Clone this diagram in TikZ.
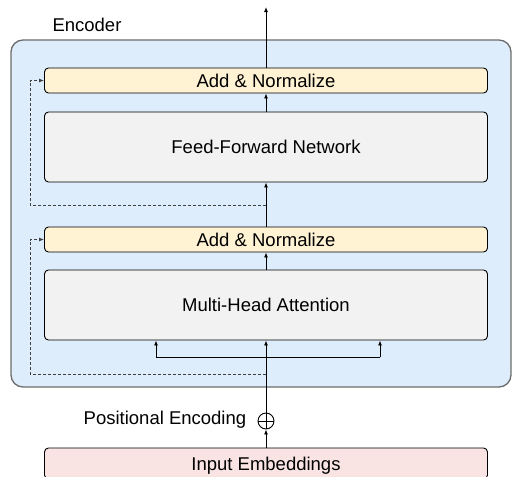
\documentclass[tikz,border=0pt]{standalone}
\usepackage{fontspec}
\setmainfont{Liberation Sans}
\usetikzlibrary{arrows.meta}
\definecolor{encblue}{HTML}{DDEDFB}
\definecolor{normyellow}{HTML}{FFF3D4}
\definecolor{layergray}{HTML}{F2F2F2}
\definecolor{embpink}{HTML}{F9E3E3}
\begin{document}
\begin{tikzpicture}[x=1pt,y=-1pt,line width=0.9pt,
    every node/.style={font=\fontsize{18.5}{22}\selectfont},
    block/.style={draw,rounded corners=4pt,minimum width=443pt,inner sep=0pt,text depth=0pt},
    addnorm/.style={block,fill=normyellow,minimum height=25pt},
    sublayer/.style={block,fill=layergray,minimum height=70pt},
    flow/.style={-{Latex[length=5pt,width=4pt]}},
    residual/.style={flow,gray!50!black,dash pattern=on 3pt off 2pt}]
    \clip (0,0) rectangle (512,477);
    % encoder frame
    \draw[fill=encblue,draw=gray!85!black,line width=1.3pt,rounded corners=12pt]
        (11,40) rectangle (511,387);
    \node (title) at (87,25) {Encoder};
    % blocks
    \node[addnorm] (norm1) at (266,80.5) {Add \& Normalize};
    \node[sublayer] (ffn) at (266,147) {Feed-Forward Network};
    \node[addnorm] (norm2) at (266,239.5) {Add \& Normalize};
    \node[sublayer] (mha) at (266,305) {Multi-Head Attention};
    \node[block,fill=embpink,minimum height=31pt] (emb) at (266,463.5) {Input Embeddings};
    % positional encoding
    \node[draw,circle,minimum size=16pt,inner sep=0pt] (pe) at (266,421) {};
    \draw (pe.west) -- (pe.east) (pe.north) -- (pe.south);
    \node[anchor=base east] (pelabel) at (250,424) {Positional Encoding};
    % named points on the main path
    \coordinate (out) at (266,7);
    \coordinate (split) at (266,357);
    \coordinate (splitL) at (156,357);
    \coordinate (splitR) at (380,357);
    \coordinate (skipA) at (266,374);
    \coordinate (skipB) at (266,205);
    % main data flow
    \draw[flow] (emb.north) -- (pe.south);
    \draw[flow] (pe.north) -- (mha.south);
    \draw (splitL) -- (splitR);
    \draw[flow] (splitL) -- (splitL |- mha.south);
    \draw[flow] (splitR) -- (splitR |- mha.south);
    \draw[flow] (mha.north) -- (norm2.south);
    \draw[flow] (norm2.north) -- (ffn.south);
    \draw[flow] (ffn.north) -- (norm1.south);
    \draw[flow] (norm1.north) -- (out);
    % residual connections
    \draw[residual] (skipA) -| (30,239.5) -- (norm2.west);
    \draw[residual] (skipB) -| (30,80.5) -- (norm1.west);
\end{tikzpicture}
\end{document}
